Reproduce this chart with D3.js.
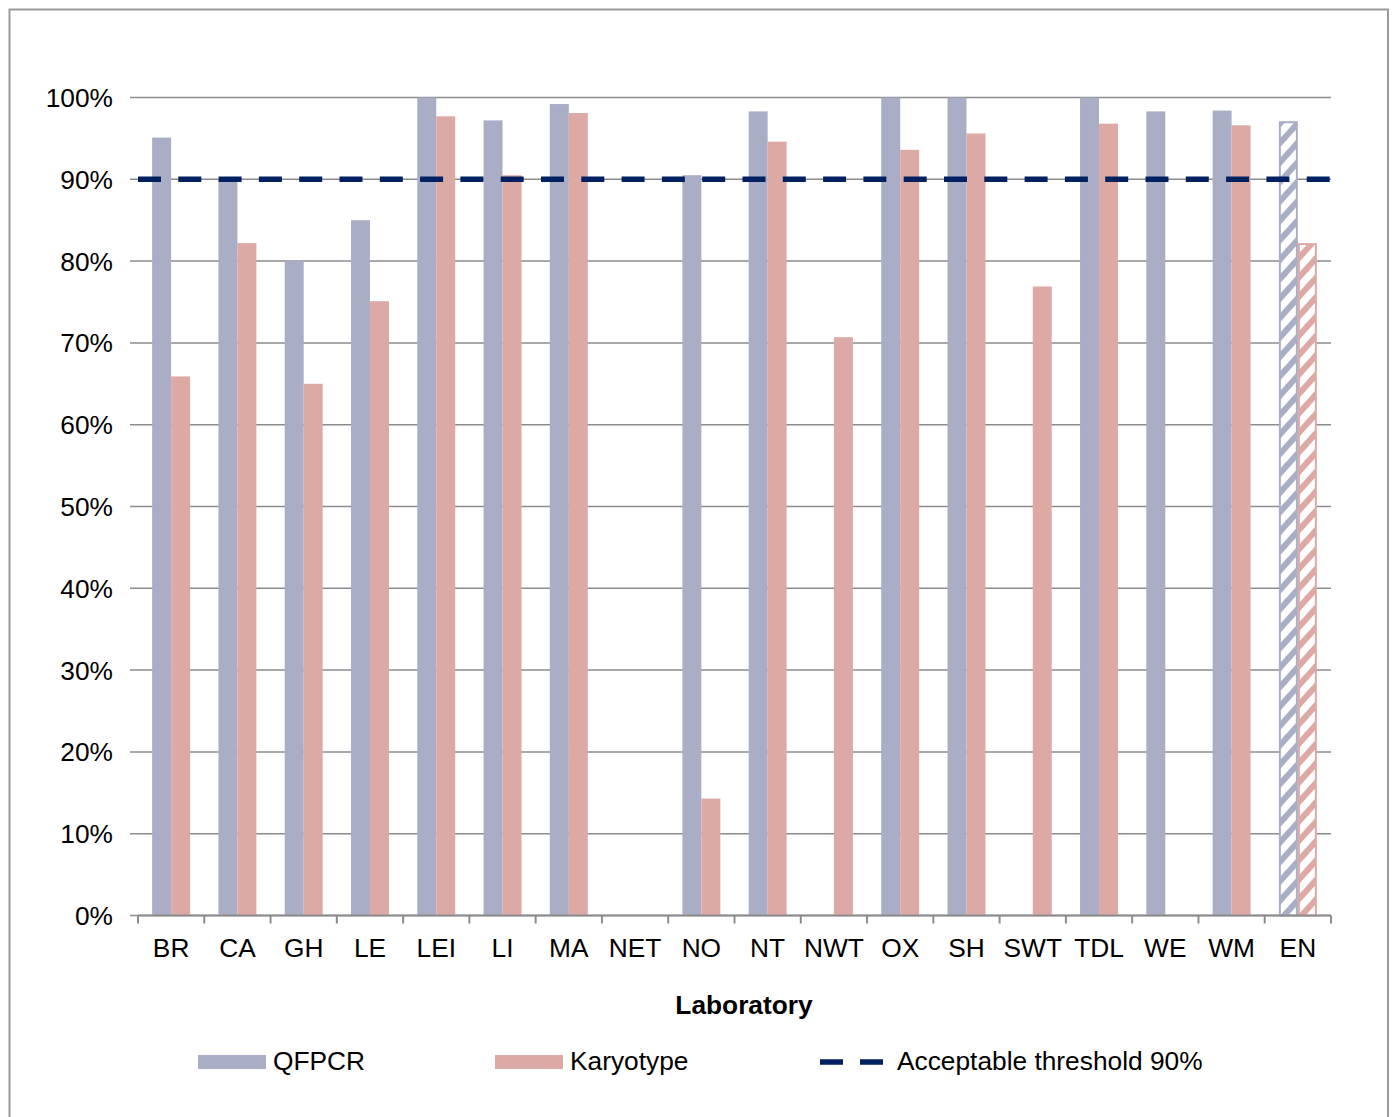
<!DOCTYPE html>
<html>
<head>
<meta charset="utf-8">
<script src="https://cdn.jsdelivr.net/npm/d3@7"></script>
<style>
  html, body { margin: 0; padding: 0; background: #fff; }
  svg { display: block; font-family: "Liberation Sans", Arial, sans-serif; }
</style>
</head>
<body>
<svg id="chart" width="1393" height="1117"></svg>
<script>
// Laboratories and detection rates (fraction of cases)
const labs = ["BR", "CA", "GH", "LE", "LEI", "LI", "MA", "NET", "NO", "NT", "NWT", "OX", "SH", "SWT", "TDL", "WE", "WM", "EN"];
const qfpcr = [0.951, 0.900, 0.801, 0.850, 1.000, 0.972, 0.992, null, 0.905, 0.983, null, 1.000, 1.000, null, 1.000, 0.983, 0.984, 0.971];
const karyotype = [0.659, 0.822, 0.650, 0.751, 0.977, 0.905, 0.981, null, 0.143, 0.946, 0.707, 0.936, 0.956, 0.769, 0.968, null, 0.966, 0.822];
const seriesNames = ["QFPCR", "Karyotype"];
const yTicks = [0, 0.1, 0.2, 0.3, 0.4, 0.5, 0.6, 0.7, 0.8, 0.9, 1.0];
const threshold = 0.9;
const thresholdLabel = "Acceptable threshold 90%";
const aggregateLab = "EN"; // national total, drawn hatched

const colors = { QFPCR: "#a9aec6", Karyotype: "#dca9a4" };
const gridColor = "#8c8c8c";
const lineColor = "#002060";
const fontSize = 26.3;

const svg = d3.select("#chart");

// Outer frame
svg.append("rect")
  .attr("x", 9.5).attr("y", 9.5)
  .attr("width", 1378.5).attr("height", 1130)
  .attr("fill", "none").attr("stroke", "#9a9a9a").attr("stroke-width", 2);

const plot = { left: 138, right: 1331, top: 97.5, bottom: 915.5 };

const x = d3.scaleBand().domain(labs).range([plot.left, plot.right]).padding(0);
const bw = x.bandwidth();
const xs = d3.scaleBand().domain(seriesNames).range([bw * 0.2135, bw * 0.7865]).padding(0);
const y = d3.scaleLinear().domain([0, 1]).range([plot.bottom, plot.top]);

// Hatch patterns for the aggregate bars
const defs = svg.append("defs");
seriesNames.forEach(s => {
  const p = defs.append("pattern")
    .attr("id", "hatch-" + s)
    .attr("patternUnits", "userSpaceOnUse")
    .attr("width", 13).attr("height", 13)
    .attr("patternTransform", "rotate(42)");
  p.append("rect").attr("width", 13).attr("height", 13).attr("fill", "#fff");
  p.append("rect").attr("x", 0).attr("width", 6).attr("height", 13).attr("fill", colors[s]);
});

// Horizontal gridlines
svg.append("g")
  .selectAll("line")
  .data(yTicks)
  .join("line")
  .attr("x1", plot.left - 8).attr("x2", plot.right)
  .attr("y1", d => y(d)).attr("y2", d => y(d))
  .attr("stroke", gridColor).attr("stroke-width", 1.5);

// Y-axis labels
svg.append("g")
  .selectAll("text")
  .data(yTicks)
  .join("text")
  .attr("x", 113)
  .attr("y", d => y(d) + 9.5)
  .attr("text-anchor", "end")
  .attr("font-size", fontSize)
  .attr("fill", "#000")
  .text(d => d3.format(".0%")(d));

// Bars
const rows = labs.map((lab, i) => ({ lab, QFPCR: qfpcr[i], Karyotype: karyotype[i] }));
const groups = svg.append("g")
  .selectAll("g")
  .data(rows)
  .join("g")
  .attr("transform", d => `translate(${x(d.lab)},0)`);

groups.selectAll("rect")
  .data(d => seriesNames.filter(s => d[s] != null).map(s => ({ s, v: d[s], agg: d.lab === aggregateLab })))
  .join("rect")
  .attr("x", d => xs(d.s) + (d.agg ? 1 : 0))
  .attr("width", d => xs.bandwidth() - (d.agg ? 2 : 0))
  .attr("y", d => y(d.v) + (d.agg ? 1 : 0))
  .attr("height", d => plot.bottom - y(d.v) - (d.agg ? 1 : 0))
  .attr("fill", d => d.agg ? `url(#hatch-${d.s})` : colors[d.s])
  .attr("stroke", d => d.agg ? colors[d.s] : "none")
  .attr("stroke-width", 2);

// X axis
const xAxis = svg.append("g");
xAxis.append("line")
  .attr("x1", plot.left).attr("x2", plot.right)
  .attr("y1", plot.bottom).attr("y2", plot.bottom)
  .attr("stroke", gridColor).attr("stroke-width", 2);
const boundaries = labs.map(l => x(l)).concat([plot.right]);
xAxis.selectAll("line.tick")
  .data(boundaries)
  .join("line")
  .attr("class", "tick")
  .attr("x1", d => d).attr("x2", d => d)
  .attr("y1", plot.bottom).attr("y2", plot.bottom + 8)
  .attr("stroke", gridColor).attr("stroke-width", 2);
xAxis.selectAll("text")
  .data(labs)
  .join("text")
  .attr("x", d => x(d) + bw / 2)
  .attr("y", 957)
  .attr("text-anchor", "middle")
  .attr("font-size", fontSize)
  .attr("fill", "#000")
  .text(d => d);

// Axis title
svg.append("text")
  .attr("x", 744).attr("y", 1014)
  .attr("text-anchor", "middle")
  .attr("font-size", fontSize).attr("font-weight", "bold")
  .attr("fill", "#000")
  .text("Laboratory");

// Threshold line
svg.append("line")
  .attr("x1", plot.left).attr("x2", plot.right)
  .attr("y1", y(threshold)).attr("y2", y(threshold))
  .attr("stroke", lineColor).attr("stroke-width", 5.5)
  .attr("stroke-dasharray", "23 17.3");

// Legend
const legend = svg.append("g");
const legendItems = [
  { label: "QFPCR", kind: "bar", color: colors.QFPCR, x: 198 },
  { label: "Karyotype", kind: "bar", color: colors.Karyotype, x: 495 },
  { label: thresholdLabel, kind: "line", color: lineColor, x: 820 }
];
legendItems.forEach(it => {
  if (it.kind === "bar") {
    legend.append("rect")
      .attr("x", it.x).attr("y", 1055)
      .attr("width", 68).attr("height", 14)
      .attr("fill", it.color);
    legend.append("text")
      .attr("x", it.x + 75).attr("y", 1070)
      .attr("font-size", fontSize).attr("fill", "#000")
      .text(it.label);
  } else {
    legend.append("line")
      .attr("x1", it.x).attr("x2", it.x + 63)
      .attr("y1", 1062).attr("y2", 1062)
      .attr("stroke", it.color).attr("stroke-width", 5.5)
      .attr("stroke-dasharray", "23 17");
    legend.append("text")
      .attr("x", it.x + 77).attr("y", 1070)
      .attr("font-size", fontSize).attr("fill", "#000")
      .text(it.label);
  }
});
</script>
</body>
</html>
